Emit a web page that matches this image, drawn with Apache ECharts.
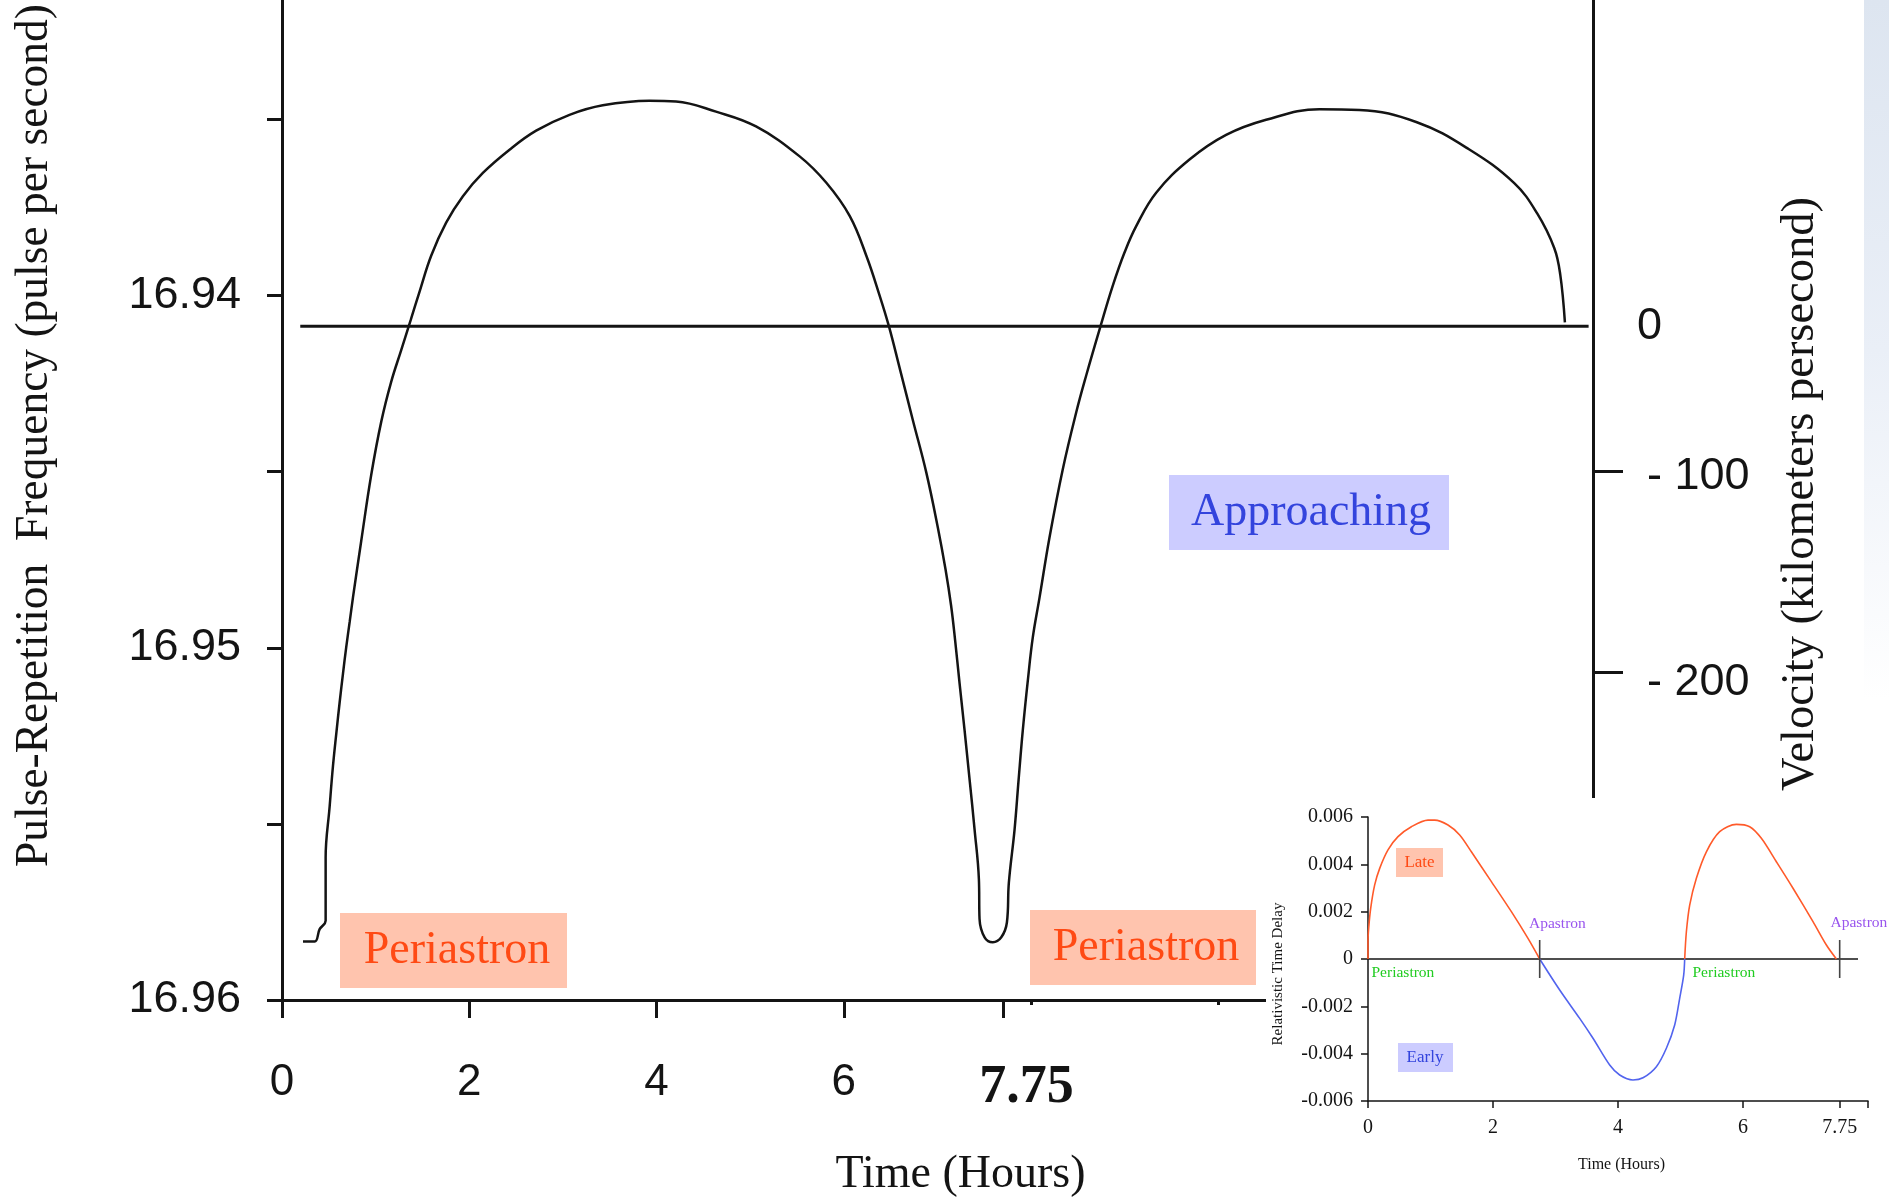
<!DOCTYPE html>
<html><head><meta charset="utf-8">
<script src="https://cdn.jsdelivr.net/npm/echarts@6/dist/echarts.min.js"></script>
<style>html,body{margin:0;padding:0;background:#fff}#c{width:1889px;height:1203px}</style>
</head><body><div id="c"></div>
<script>
// ---- main chart data (time in hours, pulse-repetition frequency) ----
const mainTime = [0.224,0.349,0.402,0.466,0.466,0.509,0.544,0.580,0.616,0.651,0.686,0.723,0.758,0.846,0.953,1.060,1.166,1.273,1.374,1.470,1.593,1.753,1.932,2.145,2.430,2.714,3.070,3.426,3.924,4.208,4.635,5.062,5.528,5.813,6.062,6.240,6.382,6.481,6.596,6.737,6.880,7.004,7.086,7.145,7.188,7.236,7.289,7.343,7.396,7.442,7.449,7.503,7.591,7.681,7.741,7.762,7.823,7.866,7.911,7.965,8.018,8.090,8.196,8.338,8.481,8.588,8.741,8.872,8.997,9.122,9.335,9.691,10.082,10.509,11.078,11.505,12.119,12.671,13.159,13.404,13.586,13.650,13.700];
const mainFreq = [16.95834,16.95834,16.95799,16.95775,16.95596,16.95450,16.95337,16.95243,16.95154,16.95074,16.94998,16.94926,16.94857,16.94697,16.94509,16.94358,16.94245,16.94155,16.94070,16.93988,16.93887,16.93793,16.93718,16.93652,16.93586,16.93532,16.93487,16.93460,16.93447,16.93449,16.93478,16.93520,16.93605,16.93680,16.93774,16.93887,16.94000,16.94087,16.94206,16.94354,16.94502,16.94659,16.94778,16.94880,16.94978,16.95102,16.95234,16.95375,16.95516,16.95657,16.95770,16.95822,16.95836,16.95822,16.95780,16.95667,16.95516,16.95375,16.95234,16.95092,16.94970,16.94857,16.94687,16.94493,16.94332,16.94227,16.94087,16.93972,16.93878,16.93803,16.93708,16.93614,16.93544,16.93501,16.93471,16.93473,16.93508,16.93584,16.93681,16.93767,16.93865,16.93940,16.94076];
const zeroFreq = 16.94087;          // frequency at zero radial velocity
const zeroLineTime = [0.195, 13.953];

const xTickVals = [0, 2, 4, 6, 7.705];
const xTickLabels = ['0', '2', '4', '6', '7.75'];
const xShortTickVals = [8, 10, 12];
const freqTickVals = [16.935, 16.94, 16.945, 16.95, 16.955, 16.96];
const freqLabelVals = [16.94, 16.95, 16.96];
const freqLabels = ['16.94', '16.95', '16.96'];
const velLabelVals = [16.94087, 16.945, 16.95086];
const velLabels = ['0', '- 100', '- 200'];
const velTickVals = [16.945, 16.95069];

// ---- inset data (time in hours, relativistic time delay) ----
const lateTime1 = [0,0,0.011,0.043,0.107,0.187,0.32,0.48,0.694,0.96,1.067,1.28,1.467,1.654,1.974,2.294,2.56,2.747];
const lateDelay1 = [0,0.00073,0.0013,0.00214,0.00313,0.00383,0.00461,0.00517,0.00559,0.00587,0.00587,0.00566,0.00524,0.00453,0.00327,0.002,0.00087,0];
const earlyTime = [2.747,3.067,3.387,3.6,3.867,4.027,4.24,4.4,4.614,4.774,4.907,4.987,5.051,5.067];
const earlyDelay = [0,-0.00131,-0.00251,-0.00335,-0.00448,-0.0049,-0.00511,-0.00502,-0.00455,-0.00377,-0.00279,-0.00166,-0.00068,0];
const lateTime2 = [5.067,5.094,5.147,5.254,5.414,5.627,5.894,6.107,6.294,6.534,6.8,7.12,7.334,7.494];
const lateDelay2 = [0,0.00115,0.00228,0.00341,0.00453,0.00538,0.00569,0.00559,0.0051,0.00411,0.00299,0.00158,0.00059,0];
const insetZeroTime = [0, 7.84];
const apastronTime = [2.747, 7.547];
const apastronMarkHalf = 0.0008;
const insetXTickVals = [0, 2, 4, 6, 7.547, 8];
const insetXLabelVals = [0, 2, 4, 6, 7.547];
const insetXLabels = ['0', '2', '4', '6', '7.75'];

const zip = (a, b) => a.map((x, i) => [x, b[i]]);
const pick = (vals, labels) => v => { for (let i = 0; i < vals.length; i++) if (Math.abs(v - vals[i]) < 1e-6) return labels[i]; return ''; };

const SERIF = '"Liberation Serif","Times New Roman",serif';
const SANS = '"Liberation Sans",Arial,sans-serif';
const INK = '#141414';

const chart = echarts.init(document.getElementById('c'), null, {renderer: 'canvas'});
const xLab = pick(xTickVals, xTickLabels);
const velLab = pick(velLabelVals, velLabels);

const option = {
  animation: false,
  backgroundColor: '#ffffff',
  grid: [
    {left: 282, right: 296, top: 0, bottom: 198},
    {left: 1368, right: 21, top: 817, bottom: 102}
  ],
  xAxis: [
    {gridIndex: 0, type: 'value', min: 0, max: 14, position: 'bottom', z: 0,
     axisLine: {onZero: false, lineStyle: {color: INK, width: 3}},
     axisTick: {customValues: xTickVals, length: 18, lineStyle: {color: INK, width: 3}},
     axisLabel: {customValues: xTickVals, margin: 61, color: INK, fontSize: 44, fontFamily: SANS,
       formatter: v => { const s = xLab(v); return s === '7.75' ? '{b|7.75}' : s; },
       rich: {b: {fontSize: 54, fontWeight: 'bold', fontFamily: SERIF, color: INK, padding: [0, 0, 0, 46]}}},
     splitLine: {show: false},
     name: 'Time (Hours)', nameLocation: 'middle', nameGap: 152,
     nameTextStyle: {fontSize: 46, fontFamily: SERIF, color: INK, padding: [0, 0, 0, 46]}},
    {gridIndex: 0, type: 'value', min: 0, max: 14, position: 'bottom', z: 0,
     axisLine: {show: false, onZero: false},
     axisTick: {customValues: xShortTickVals, length: 5, lineStyle: {color: INK, width: 3}},
     axisLabel: {show: false}, splitLine: {show: false}},
    {gridIndex: 1, type: 'value', min: 0, max: 8, position: 'bottom', z: 20,
     axisLine: {onZero: false, lineStyle: {color: INK, width: 1.5}},
     axisTick: {customValues: insetXTickVals, length: 7, lineStyle: {color: INK, width: 1.5}},
     axisLabel: {customValues: insetXLabelVals, formatter: pick(insetXLabelVals, insetXLabels),
       margin: 17, color: INK, fontSize: 20, fontFamily: SERIF},
     splitLine: {show: false},
     name: 'Time (Hours)', nameLocation: 'middle', nameGap: 56,
     nameTextStyle: {fontSize: 16, fontFamily: SERIF, color: INK, padding: [0, 0, 0, 7]}}
  ],
  yAxis: [
    {gridIndex: 0, type: 'value', min: 16.93161, max: 16.96, inverse: true, position: 'left', z: 0,
     axisLine: {onZero: false, lineStyle: {color: INK, width: 3}},
     axisTick: {customValues: freqTickVals, length: 15, lineStyle: {color: INK, width: 3}},
     axisLabel: {customValues: freqLabelVals, formatter: pick(freqLabelVals, freqLabels),
       margin: 41, color: INK, fontSize: 45, fontFamily: SANS},
     splitLine: {show: false},
     name: 'Pulse-Repetition  Frequency (pulse per second)', nameLocation: 'middle', nameRotate: 90, nameGap: 224,
     nameTextStyle: {fontSize: 45.5, fontFamily: SERIF, color: INK, padding: [0, 0, 0, 129]}},
    {gridIndex: 0, type: 'value', min: 16.93161, max: 16.96, inverse: true, position: 'right', z: 0,
     axisLine: {onZero: false, lineStyle: {color: INK, width: 3}},
     axisTick: {customValues: velTickVals, length: 30, lineStyle: {color: INK, width: 3}},
     axisLabel: {customValues: velLabelVals, margin: 44, color: INK, fontSize: 45, fontFamily: SANS,
       formatter: v => { const s = velLab(v); return s === '0' ? s : '{p|' + s + '}'; },
       rich: {p: {fontSize: 45, fontFamily: SANS, color: INK, padding: [10, 0, 0, 10]}}},
     splitLine: {show: false},
     name: 'Velocity (kilometers persecond)', nameLocation: 'middle', nameRotate: 90, nameGap: 184,
     nameTextStyle: {fontSize: 46.5, fontFamily: SERIF, color: INK, padding: [0, 0, 0, 12]}},
    {gridIndex: 1, type: 'value', min: -0.006, max: 0.006, interval: 0.002, z: 20,
     axisLine: {onZero: false, lineStyle: {color: INK, width: 1.5}},
     axisTick: {length: 7, lineStyle: {color: INK, width: 1.5}},
     axisLabel: {margin: 15, color: INK, fontSize: 20, fontFamily: SERIF,
       formatter: v => Math.abs(v) < 1e-9 ? '0' : v.toFixed(3)},
     splitLine: {show: false},
     name: 'Relativistic Time Delay', nameLocation: 'middle', nameRotate: 90, nameGap: 82,
     nameTextStyle: {fontSize: 15, fontFamily: SERIF, color: INK, padding: [0, 30, 0, 0]}}
  ],
  series: [
    {type: 'line', xAxisIndex: 0, yAxisIndex: 0, data: zip(mainTime, mainFreq), symbol: 'none', smooth: 0.4,
     lineStyle: {color: INK, width: 2.5}, z: 3},
    {type: 'line', xAxisIndex: 0, yAxisIndex: 0, data: zeroLineTime.map(t => [t, zeroFreq]), symbol: 'none',
     lineStyle: {color: INK, width: 3}, z: 3},
    {type: 'line', xAxisIndex: 2, yAxisIndex: 2, data: insetZeroTime.map(t => [t, 0]), symbol: 'none',
     lineStyle: {color: INK, width: 1.5}, z: 21},
    {type: 'line', xAxisIndex: 2, yAxisIndex: 2, data: zip(lateTime1, lateDelay1), symbol: 'none', smooth: 0.3,
     lineStyle: {color: '#ff5a2a', width: 1.6}, z: 22},
    {type: 'line', xAxisIndex: 2, yAxisIndex: 2, data: zip(earlyTime, earlyDelay), symbol: 'none', smooth: 0.3,
     lineStyle: {color: '#5264ee', width: 1.6}, z: 22},
    {type: 'line', xAxisIndex: 2, yAxisIndex: 2, data: zip(lateTime2, lateDelay2), symbol: 'none', smooth: 0.3,
     lineStyle: {color: '#ff5a2a', width: 1.6}, z: 22}
  ].concat(apastronTime.map(t => ({
     type: 'line', xAxisIndex: 2, yAxisIndex: 2, data: [[t, apastronMarkHalf], [t, -apastronMarkHalf]], symbol: 'none',
     lineStyle: {color: '#444', width: 1.6}, z: 23}))),
  graphic: {elements: [
    // slide background strip on the right edge
    {type: 'rect', shape: {x: 1864, y: 0, width: 25, height: 700}, z: 11,
     style: {fill: new echarts.graphic.LinearGradient(0, 0, 0, 1, [
       {offset: 0, color: '#dde5f0'}, {offset: 0.5, color: '#eaeff7'}, {offset: 1, color: '#ffffff'}])}},
    // main annotations
    {type: 'rect', shape: {x: 340, y: 913, width: 227, height: 75}, style: {fill: '#ffc4ae'}, z: 5},
    {type: 'text', x: 457, y: 951, z: 6, style: {text: 'Periastron', fill: '#ff4a14', fontSize: 46, fontFamily: SERIF, align: 'center', verticalAlign: 'middle'}},
    {type: 'rect', shape: {x: 1030, y: 910, width: 226, height: 75}, style: {fill: '#ffc4ae'}, z: 5},
    {type: 'text', x: 1146, y: 948, z: 6, style: {text: 'Periastron', fill: '#ff4a14', fontSize: 46, fontFamily: SERIF, align: 'center', verticalAlign: 'middle'}},
    {type: 'rect', shape: {x: 1169, y: 475, width: 280, height: 75}, style: {fill: '#ccccff'}, z: 5},
    {type: 'text', x: 1311, y: 513, z: 6, style: {text: 'Approaching', fill: '#3344dd', fontSize: 46, fontFamily: SERIF, align: 'center', verticalAlign: 'middle'}},
    // inset panel background
    {type: 'rect', shape: {x: 1266, y: 798, width: 623, height: 405}, style: {fill: '#ffffff'}, z: 10},
    // inset annotations
    {type: 'rect', shape: {x: 1396, y: 848, width: 47, height: 29}, style: {fill: '#ffc4ae'}, z: 30},
    {type: 'text', x: 1419.5, y: 862.5, z: 31, style: {text: 'Late', fill: '#ff4a14', fontSize: 17, fontFamily: SERIF, align: 'center', verticalAlign: 'middle'}},
    {type: 'rect', shape: {x: 1398, y: 1043, width: 55, height: 29}, style: {fill: '#ccccff'}, z: 30},
    {type: 'text', x: 1425, y: 1057.5, z: 31, style: {text: 'Early', fill: '#3344dd', fontSize: 17, fontFamily: SERIF, align: 'center', verticalAlign: 'middle'}},
    {type: 'text', x: 1371.5, y: 973, z: 31, style: {text: 'Periastron', fill: '#22cc22', fontSize: 15.5, fontFamily: SERIF, align: 'left', verticalAlign: 'middle'}},
    {type: 'text', x: 1692.5, y: 973, z: 31, style: {text: 'Periastron', fill: '#22cc22', fontSize: 15.5, fontFamily: SERIF, align: 'left', verticalAlign: 'middle'}},
    {type: 'text', x: 1529, y: 924, z: 31, style: {text: 'Apastron', fill: '#9955ee', fontSize: 15.5, fontFamily: SERIF, align: 'left', verticalAlign: 'middle'}},
    {type: 'text', x: 1830.5, y: 922.5, z: 31, style: {text: 'Apastron', fill: '#9955ee', fontSize: 15.5, fontFamily: SERIF, align: 'left', verticalAlign: 'middle'}}
  ]}
};
chart.setOption(option);
</script></body></html>
